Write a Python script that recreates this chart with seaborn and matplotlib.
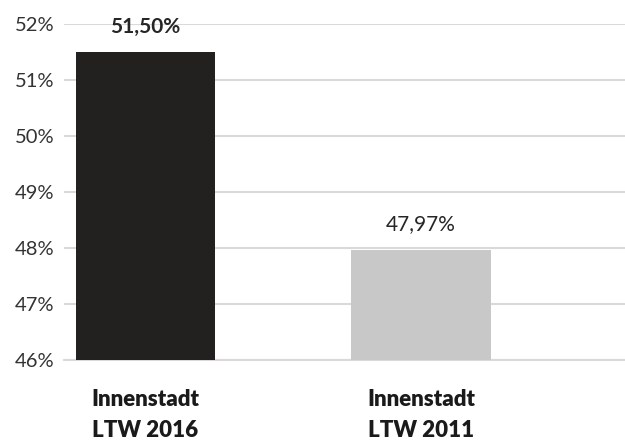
import pandas as pd
import matplotlib.pyplot as plt
import seaborn as sns

categories = ["Innenstadt\nLTW 2016", "Innenstadt\nLTW 2011"]
values = [51.50, 47.97]
labels = ["51,50%", "47,97%"]
colors = ["#231f20", "#c8c8c8"]
yticks = [46, 47, 48, 49, 50, 51, 52]

df = pd.DataFrame({"cat": categories, "val": values})

sns.set_style("white")
plt.rcParams["font.family"] = ["Lato", "DejaVu Sans"]

fig = plt.figure(figsize=(6.25, 4.41), dpi=100)
ax = fig.add_axes([0.1024, 0.1837, 0.8976, 0.7619])

sns.barplot(data=df, x="cat", y="val", hue="cat", palette=colors,
            width=0.505, legend=False, ax=ax, zorder=3, linewidth=0)

ax.set_ylim(46, 52)
ax.set_xlim(-0.295, 1.74)
ax.set_yticks(yticks)
ax.set_yticklabels([f"{t}%" for t in yticks], fontsize=14.5, color="#333333")
ax.yaxis.grid(True, color="#d9d9d9", linewidth=1.5, zorder=0)
ax.set_axisbelow(True)
for s in ["top", "right", "left"]:
    ax.spines[s].set_visible(False)
ax.spines["bottom"].set_color("#d9d9d9")
ax.spines["bottom"].set_linewidth(1.5)
ax.tick_params(axis="y", length=0, pad=7)
ax.tick_params(axis="x", length=0, pad=21)
for t in ax.get_xticklabels():
    t.set_fontsize(16)
    t.set_fontweight("heavy")
    t.set_color("#1a1a1a")
    t.set_linespacing(1.55)
ax.set_xlabel("")
ax.set_ylabel("")

for i, (v, lab) in enumerate(zip(values, labels)):
    ax.text(i, v + 0.45, lab, ha="center", va="center", fontsize=15,
            fontweight="bold" if i == 0 else "normal", color="#262626")

fig.savefig("out.png", dpi=100)
